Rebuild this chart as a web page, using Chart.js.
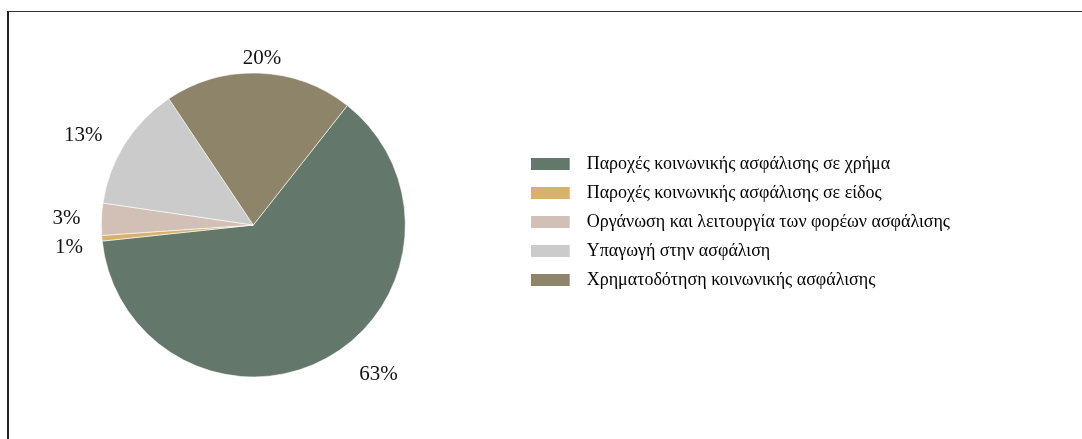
<!DOCTYPE html>
<html><head><meta charset="utf-8">
<script src="https://cdn.jsdelivr.net/npm/chart.js@4.4.1/dist/chart.umd.min.js"></script>
<style>
html,body{margin:0;padding:0;background:#fff;width:1082px;height:439px;overflow:hidden;position:relative}
#frame{position:absolute;left:7px;top:11px;right:-5px;bottom:-5px;border-top:1px solid #333;border-left:2px solid #222;}
#wrap{position:absolute;left:-13px;top:0;width:1095px;height:439px}
</style></head><body>
<div id="frame"></div>
<div id="wrap"><canvas id="c"></canvas></div>
<script>
const categories = [
  'Παροχές κοινωνικής ασφάλισης σε χρήμα',
  'Παροχές κοινωνικής ασφάλισης σε είδος',
  'Οργάνωση και λειτουργία των φορέων ασφάλισης',
  'Υπαγωγή στην ασφάλιση',
  'Χρηματοδότηση κοινωνικής ασφάλισης'
];
const shares = [62.7, 0.6, 3.4, 13.3, 20.0];
const colors = ['#63776B', '#D8B16A', '#D2BFB5', '#CBCBCB', '#8D846A'];
// label nudges (px) relative to the default outside position
const labelNudge = [[41, -3], [-11, 7], [-13, 0], [-23, 3], [2, 7]];

const FONT = '"Liberation Serif", "Times New Roman", serif';
const LEGEND_SIZE = 18;
const LEGEND_PAD = 11;
const SWATCH_W = 47;
const CANVAS_W = 1095;
const LEGEND_LEFT = 519; // canvas x of the legend box

function swatch(color) {
  const c = document.createElement('canvas');
  c.width = SWATCH_W; c.height = 12;
  const g = c.getContext('2d');
  g.fillStyle = color;
  g.fillRect(0, 0, 39, 12);
  return c;
}
const swatches = colors.map(swatch);

// measure legend width so the legend starts where it should
const mctx = document.createElement('canvas').getContext('2d');
mctx.font = LEGEND_SIZE + 'px ' + FONT;
const maxText = Math.max(...categories.map(t => mctx.measureText(t).width));
const legendW = LEGEND_PAD + SWATCH_W + LEGEND_SIZE / 2 + maxText + 10;
const padRight = Math.max(0, Math.floor(CANVAS_W - LEGEND_LEFT - 13 - legendW));

const pctLabels = {
  id: 'pctLabels',
  afterDatasetsDraw(chart) {
    const meta = chart.getDatasetMeta(0);
    const data = chart.data.datasets[0].data;
    const total = data.reduce((a, b) => a + b, 0);
    const ctx = chart.ctx;
    ctx.save();
    ctx.font = '21px ' + FONT;
    ctx.fillStyle = '#111';
    ctx.textAlign = 'center';
    ctx.textBaseline = 'middle';
    meta.data.forEach((arc, i) => {
      const p = arc.getProps(['x', 'y', 'startAngle', 'endAngle', 'outerRadius'], true);
      const mid = (p.startAngle + p.endAngle) / 2;
      const d = p.outerRadius + 22;
      const x = p.x + Math.cos(mid) * d + labelNudge[i][0];
      const y = p.y + Math.sin(mid) * d + labelNudge[i][1];
      ctx.fillText(Math.round(data[i] / total * 100) + '%', x, y);
    });
    ctx.restore();
  }
};

new Chart(document.getElementById('c'), {
  type: 'pie',
  data: {
    labels: categories,
    datasets: [{
      data: shares,
      backgroundColor: colors,
      borderColor: '#ffffff',
      borderWidth: 0.6,
      hoverOffset: 0,
      clip: false
    }]
  },
  options: {
    responsive: true,
    maintainAspectRatio: false,
    animation: false,
    rotation: 38.2,
    radius: 152,
    layout: { padding: { left: 0, right: padRight, top: 144, bottom: 133 } },
    plugins: {
      tooltip: { enabled: false },
      legend: {
        position: 'right',
        align: 'start',
        labels: {
          usePointStyle: true,
          pointStyleWidth: SWATCH_W,
          boxHeight: 12,
          padding: LEGEND_PAD,
          color: '#1a1a1a',
          font: { family: FONT, size: LEGEND_SIZE },
          generateLabels() {
            return categories.map((t, i) => ({
              text: t,
              fillStyle: colors[i],
              strokeStyle: colors[i],
              lineWidth: 0,
              pointStyle: swatches[i],
              hidden: false,
              index: i
            }));
          }
        }
      }
    }
  },
  plugins: [pctLabels]
});
</script>
</body></html>
